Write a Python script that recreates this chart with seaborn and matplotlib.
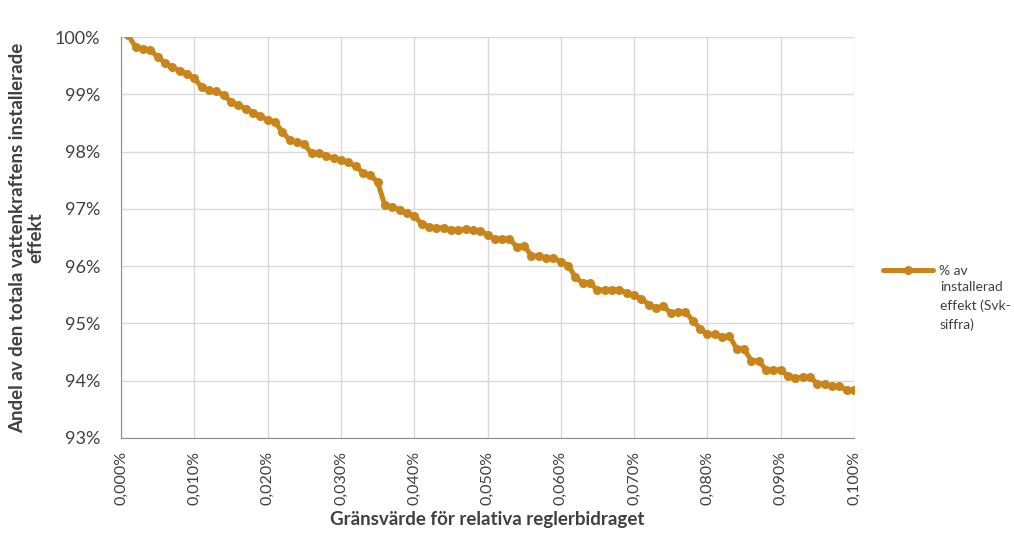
import numpy as np
import pandas as pd
import matplotlib
matplotlib.use("Agg")
import matplotlib.pyplot as plt
import seaborn as sns

# gränsvärde (%), steg 0,001 %
threshold = np.round(np.arange(0, 101) * 0.001, 3)

# andel av installerad effekt (%)
share = [100.25, 100.03, 99.82, 99.79, 99.78, 99.65, 99.55, 99.47, 99.41, 99.35,
         99.29, 99.12, 99.07, 99.05, 98.99, 98.87, 98.81, 98.75, 98.68, 98.62,
         98.55, 98.51, 98.35, 98.20, 98.16, 98.13, 97.97, 97.97, 97.93, 97.88,
         97.85, 97.81, 97.75, 97.63, 97.59, 97.47, 97.06, 97.04, 96.98, 96.92,
         96.88, 96.74, 96.69, 96.67, 96.67, 96.63, 96.63, 96.64, 96.63, 96.61,
         96.55, 96.47, 96.47, 96.47, 96.34, 96.36, 96.18, 96.18, 96.14, 96.14,
         96.08, 96.01, 95.81, 95.70, 95.71, 95.58, 95.59, 95.59, 95.59, 95.53,
         95.49, 95.43, 95.33, 95.27, 95.30, 95.18, 95.20, 95.20, 95.05, 94.91,
         94.81, 94.81, 94.77, 94.78, 94.56, 94.55, 94.35, 94.35, 94.19, 94.19,
         94.19, 94.08, 94.05, 94.06, 94.06, 93.95, 93.95, 93.90, 93.90, 93.84,
         93.84]

series_name = "% av"
series_rest = "installerad\neffekt (Svk-\nsiffra)"
x_ticks = np.round(np.arange(0, 11) * 0.01, 3)
y_ticks = [93, 94, 95, 96, 97, 98, 99, 100]

df = pd.DataFrame({"x": threshold, "y": share, "serie": series_name})

sns.set_style("white")
plt.rcParams["font.family"] = ["Lato", "DejaVu Sans"]

color = "#C9851A"
txt = "#404040"
W, H = 1014, 558
fig = plt.figure(figsize=(W / 100, H / 100), dpi=100)
ax = fig.add_axes([121 / W, 1 - 438 / H, (854 - 121) / W, (438 - 37) / H])

sns.lineplot(data=df, x="x", y="y", hue="serie", palette=[color], ax=ax,
             marker="o", markersize=6.5, markeredgewidth=0, linewidth=3.6,
             legend=True)

ax.set_xlim(0, 0.1)
ax.set_ylim(93, 100)
ax.set_xticks(x_ticks)
ax.set_xticklabels([f"{v:.3f}%".replace(".", ",") for v in x_ticks],
                   rotation=90, fontsize=11.5, color=txt)
ax.set_yticks(y_ticks)
ax.set_yticklabels([f"{v}%" for v in y_ticks], fontsize=13, color=txt)

ax.grid(True, color="#D9D9D9", linewidth=1)
ax.set_axisbelow(True)
for s in ["top", "right"]:
    ax.spines[s].set_visible(False)
for s in ["left", "bottom"]:
    ax.spines[s].set_color("#8C8C8C")
ax.tick_params(axis="y", length=5, color="#8C8C8C", pad=10)
ax.tick_params(axis="x", length=5, color="#8C8C8C", pad=4.5)

ax.set_xlabel("Gränsvärde för relativa reglerbidraget", fontsize=13.5,
              fontweight="bold", color=txt)
ax.xaxis.set_label_coords(0.5, -(519 - 438) / (438 - 37), transform=ax.transAxes)
ax.xaxis.label.set_va("center")
ax.set_ylabel("Andel av den totala vattenkraftens installerade\neffekt",
              fontsize=13.5, fontweight="bold", color=txt, linespacing=1.1)
ax.yaxis.set_label_coords(-(121 - 27) / (854 - 121), 0.5, transform=ax.transAxes)
ax.yaxis.label.set_va("center")

ax.legend_.remove()
handles, labels = ax.get_legend_handles_labels()
leg = fig.legend(handles, labels, loc="center left",
                 bbox_to_anchor=(870 / W, 1 - 271 / H),
                 frameon=False, fontsize=10, handlelength=3.6, handletextpad=0.5,
                 labelcolor=txt)
fig.text(940 / W, 1 - 281 / H, series_rest, fontsize=10, color=txt,
         va="top", ha="left", linespacing=1.6)

fig.savefig("out.png", dpi=100)
